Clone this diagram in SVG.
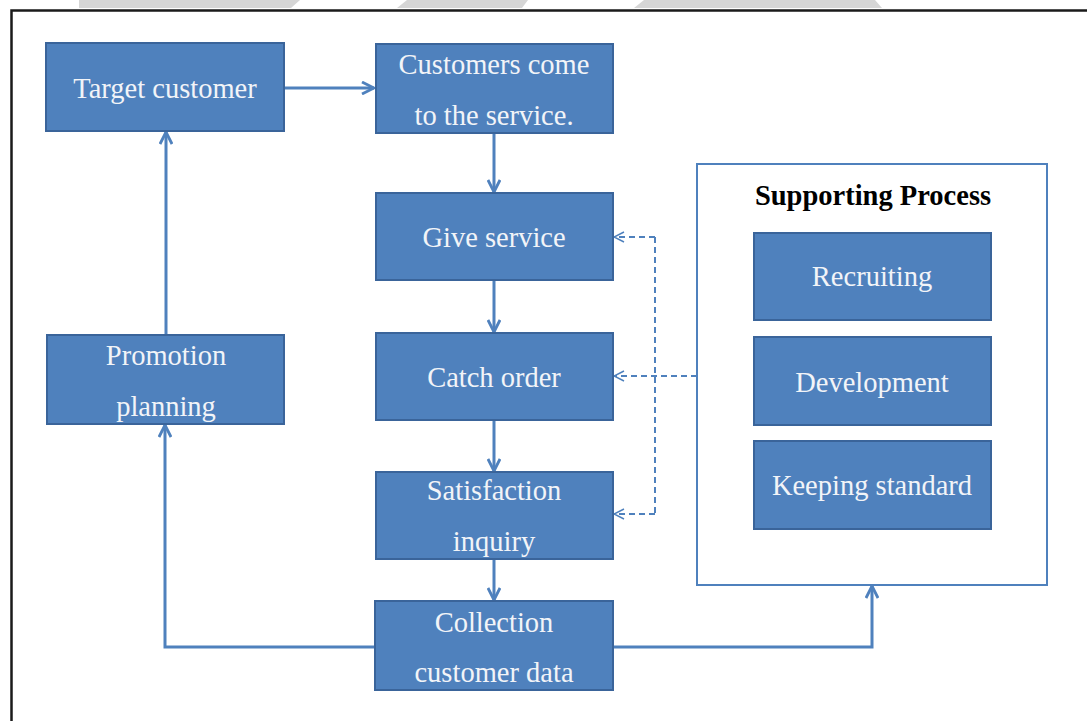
<svg xmlns="http://www.w3.org/2000/svg" width="1087" height="721" viewBox="0 0 1087 721">
<style>
.box{fill:#4f81bd;stroke:#3a649a;stroke-width:2}
.t{font-family:"Liberation Serif","Times New Roman",serif;font-size:28.5px;fill:#f2f4f8;text-anchor:middle}
.h{font-family:"Liberation Serif","Times New Roman",serif;font-size:28.5px;font-weight:bold;fill:#000;text-anchor:middle}
.c{fill:none;stroke:#4f81bd;stroke-width:3}
.d{fill:none;stroke:#4f81bd;stroke-width:2;stroke-dasharray:6 4}
</style>
<defs>
<marker id="a" viewBox="0 0 14 14" refX="13" refY="7" markerWidth="14" markerHeight="14" markerUnits="userSpaceOnUse" orient="auto">
<path d="M1,1 L13,7 L1,13" fill="none" stroke="#4f81bd" stroke-width="2.8"/>
</marker>
<marker id="ad" viewBox="0 0 12 12" refX="11" refY="6" markerWidth="12" markerHeight="12" markerUnits="userSpaceOnUse" orient="auto">
<path d="M1,1 L11,6 L1,11" fill="none" stroke="#4f81bd" stroke-width="1.5"/>
</marker>
</defs>
<rect width="1087" height="721" fill="#fff"/>
<g id="watermark" fill="#d6d6d6">
<polygon points="79,0 300,0 291,8 79,8"/>
<polygon points="407,0 528,0 522,8 397,8"/>
<polygon points="644,0 875,0 882,8 634,8"/>
</g>
<rect id="frame" x="11.5" y="10.5" width="1100" height="730" fill="#fff" stroke="#1a1a1a" stroke-width="2.5"/>
<g id="connectors">
<line class="c" x1="284" y1="88" x2="374" y2="88" marker-end="url(#a)"/>
<line class="c" x1="494" y1="133" x2="494" y2="192" marker-end="url(#a)"/>
<line class="c" x1="494" y1="280" x2="494" y2="332" marker-end="url(#a)"/>
<line class="c" x1="494" y1="420" x2="494" y2="471" marker-end="url(#a)"/>
<line class="c" x1="494" y1="559" x2="494" y2="600" marker-end="url(#a)"/>
<line class="c" x1="166" y1="335" x2="166" y2="132" marker-end="url(#a)"/>
<polyline class="c" points="375,647 165,647 165,425" marker-end="url(#a)"/>
<polyline class="c" points="613,647 872,647 872,586" marker-end="url(#a)"/>
<line class="d" x1="697" y1="376" x2="614" y2="376" marker-end="url(#ad)"/>
<polyline class="d" points="655,237 655,514"/>
<line class="d" x1="655" y1="237" x2="614" y2="237" marker-end="url(#ad)"/>
<line class="d" x1="655" y1="514" x2="614" y2="514" marker-end="url(#ad)"/>
</g>
<g id="target-customer">
<rect class="box" x="46" y="43" width="238" height="88"/>
<text class="t" x="165" y="98">Target customer</text>
</g>
<g id="customers-come">
<rect class="box" x="376" y="44" width="237" height="89"/>
<text class="t" x="494" y="74">Customers come</text>
<text class="t" x="494" y="125">to the service.</text>
</g>
<g id="give-service">
<rect class="box" x="376" y="193" width="237" height="87"/>
<text class="t" x="494" y="247">Give service</text>
</g>
<g id="catch-order">
<rect class="box" x="376" y="333" width="237" height="87"/>
<text class="t" x="494" y="387">Catch order</text>
</g>
<g id="satisfaction-inquiry">
<rect class="box" x="376" y="472" width="237" height="87"/>
<text class="t" x="494" y="500">Satisfaction</text>
<text class="t" x="494" y="551">inquiry</text>
</g>
<g id="collection-customer-data">
<rect class="box" x="375" y="601" width="238" height="89"/>
<text class="t" x="494" y="632">Collection</text>
<text class="t" x="494" y="682">customer data</text>
</g>
<g id="promotion-planning">
<rect class="box" x="47" y="335" width="237" height="89"/>
<text class="t" x="166" y="365">Promotion</text>
<text class="t" x="166" y="416">planning</text>
</g>
<g id="supporting-process">
<rect x="697" y="164" width="350" height="421" fill="#fff" stroke="#4f81bd" stroke-width="2"/>
<text class="h" x="873" y="205">Supporting Process</text>
</g>
<g id="recruiting">
<rect class="box" x="754" y="233" width="237" height="87"/>
<text class="t" x="872" y="286">Recruiting</text>
</g>
<g id="development">
<rect class="box" x="754" y="337" width="237" height="88"/>
<text class="t" x="872" y="392">Development</text>
</g>
<g id="keeping-standard">
<rect class="box" x="754" y="441" width="237" height="88"/>
<text class="t" x="872" y="495">Keeping standard</text>
</g>
</svg>
